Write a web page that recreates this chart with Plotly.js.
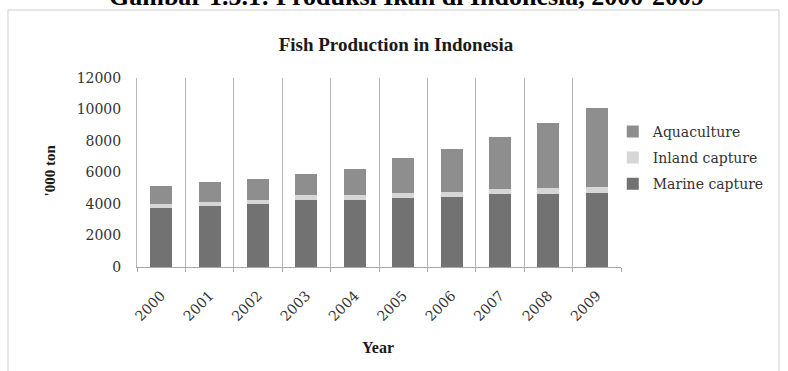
<!DOCTYPE html>
<html>
<head>
<meta charset="utf-8">
<script src="https://cdn.plot.ly/plotly-3.0.1.min.js"></script>
<style>
  html, body { margin: 0; padding: 0; background: #ffffff; }
  #chart { width: 788px; height: 371px; }
</style>
</head>
<body>
<div id="chart"></div>
<script>
// Fish production in Indonesia, '000 ton, 2000-2009
const years = ['2000', '2001', '2002', '2003', '2004', '2005', '2006', '2007', '2008', '2009'];
const marineCapture = [3740, 3850, 3980, 4240, 4250, 4360, 4470, 4620, 4640, 4720];
const inlandCapture = [280, 290, 300, 310, 320, 310, 320, 330, 360, 370];
const aquaculture = [1120, 1250, 1320, 1370, 1670, 2260, 2710, 3330, 4120, 5000];
const yTicks = [0, 2000, 4000, 6000, 8000, 10000, 12000];
const gridTicks = [2000, 4000, 6000, 8000];

const serif = 'DejaVu Serif, serif';
const times = 'Liberation Serif, Times New Roman, serif';

// one legend group per series so the gap between legend rows can be set;
// rank puts the top segment of the stack first in the legend
function series(name, values, color, group, rank) {
  return {
    type: 'bar', name: name, x: years, y: values, yaxis: 'y2',
    marker: { color: color, line: { width: 0 } },
    legendgroup: group, legendrank: rank, hoverinfo: 'x+y+name'
  };
}

const traces = [
  series('Marine capture', marineCapture, '#727272', 'g1', 3),
  series('Inland capture', inlandCapture, '#d6d6d6', 'g2', 2),
  series('Aquaculture', aquaculture, '#8e8e8e', 'g3', 1)
];

const layout = {
  width: 788, height: 371,
  margin: { l: 137, r: 167, t: 78, b: 104 },
  paper_bgcolor: '#ffffff', plot_bgcolor: '#ffffff',
  barmode: 'stack', bargap: 0.545,
  showlegend: true,
  title: {
    text: '<b>Fish Production in Indonesia</b>',
    font: { family: times, size: 19, color: '#1a1a1a' },
    xref: 'container', x: 0.5025, xanchor: 'center',
    yref: 'container', y: 1 - 44 / 371, yanchor: 'middle'
  },
  xaxis: {
    type: 'category', tickson: 'boundaries',
    showgrid: true, gridcolor: '#b4b4b4', gridwidth: 1,
    showline: true, linecolor: '#a8a8a8', linewidth: 1,
    ticks: 'outside', ticklen: 4, tickcolor: '#a8a8a8',
    tickangle: -45, ticklabelstandoff: 14,
    tickfont: { family: serif, size: 14, color: '#333333' },
    fixedrange: true
  },
  // grid layer underneath the bars
  yaxis: {
    range: [0, 12000], tickvals: gridTicks, showticklabels: false,
    showgrid: true, gridcolor: '#8c8c8c', gridwidth: 1,
    zeroline: false, showline: false, ticks: '', fixedrange: true
  },
  // value axis carrying the bars and the labels
  yaxis2: {
    overlaying: 'y', side: 'left', range: [0, 12000],
    tickvals: yTicks, ticktext: yTicks.map(String),
    showgrid: false, zeroline: false,
    showline: true, linecolor: '#b8b8b8', linewidth: 1,
    ticks: '', ticklabelstandoff: 12,
    tickfont: { family: serif, size: 14, color: '#333333' },
    fixedrange: true
  },
  legend: {
    x: 0.983, xanchor: 'left', xref: 'paper',
    y: 0.80, yanchor: 'top', yref: 'paper',
    traceorder: 'grouped', tracegroupgap: 5,
    font: { family: serif, size: 14, color: '#333333' },
    bgcolor: 'rgba(0,0,0,0)', itemwidth: 30
  },
  annotations: [
    {
      text: '<b>Gambar 1.5.1: Produksi Ikan di Indonesia, 2000-2009</b>',
      xref: 'paper', yref: 'paper', x: 0.556, y: 1.345,
      xanchor: 'center', yanchor: 'bottom', showarrow: false,
      font: { family: times, size: 26, color: '#000000' }
    },
    {
      text: "<b>'000 ton</b>",
      xref: 'paper', yref: 'paper', x: -0.18, y: 0.51,
      xanchor: 'center', yanchor: 'middle', textangle: -90, showarrow: false,
      font: { family: times, size: 15, color: '#1a1a1a' }
    },
    {
      text: '<b>Year</b>',
      xref: 'paper', yref: 'paper', x: 0.498, y: -0.425,
      xanchor: 'center', yanchor: 'middle', showarrow: false,
      font: { family: times, size: 16, color: '#1a1a1a' }
    }
  ],
  shapes: [
    {
      type: 'rect', xref: 'paper', yref: 'paper',
      x0: -0.2665, x1: 1.3264, y0: -0.7, y1: 1.36,
      line: { color: '#cfcfcf', width: 1 }, fillcolor: 'rgba(0,0,0,0)', layer: 'below'
    }
  ]
};

Plotly.newPlot('chart', traces, layout, { staticPlot: true, displayModeBar: false });
</script>
</body>
</html>
